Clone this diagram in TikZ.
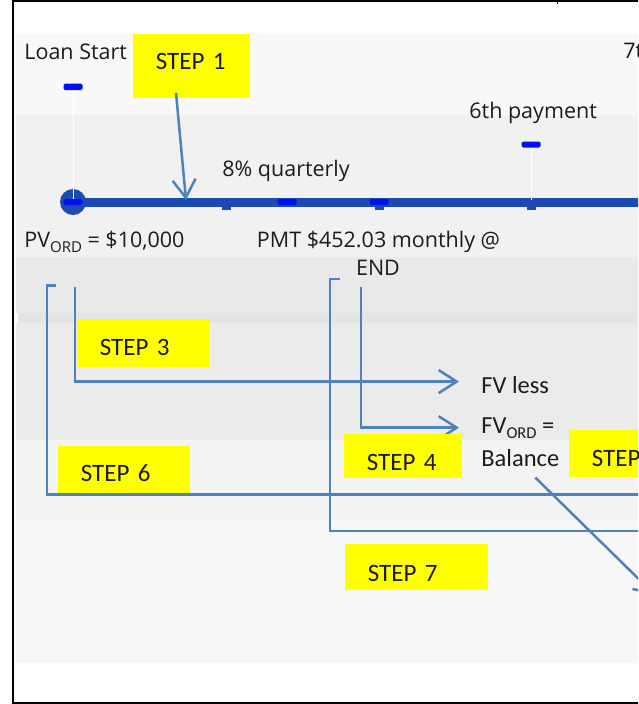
\documentclass[tikz,border=0pt]{standalone}
\usetikzlibrary{arrows.meta}
\usepackage{fontspec}
\setmainfont{Open Sans}
\newfontfamily\calfont{Carlito}
\definecolor{lineblue}{RGB}{26,74,178}
\definecolor{markblue}{RGB}{0,16,240}
\definecolor{linkblue}{RGB}{79,129,189}
\definecolor{stepyellow}{RGB}{255,255,0}
\definecolor{inkgray}{RGB}{28,28,28}
\definecolor{bandA}{RGB}{248,248,248}
\definecolor{bandB}{RGB}{241,241,241}
\definecolor{bandC}{RGB}{233,233,233}
\definecolor{bandD}{RGB}{228,228,228}
\definecolor{bandE}{RGB}{235,235,235}
\definecolor{bandF}{RGB}{243,243,243}
\definecolor{bandG}{RGB}{247,247,247}
\newcommand{\lowsub}[2]{\raisebox{-5pt}{\fontsize{#1}{#1}\selectfont #2}}

\begin{document}
\begin{tikzpicture}[x=1pt,y=-1pt,line width=0.8pt,>=Stealth,
  conn/.style={->,draw=linkblue,line width=2.5pt,>={Straight Barb[length=18pt,width=23pt]}},
  link/.style={draw=linkblue,line width=2.5pt},
  stepbox/.style={fill=stepyellow,anchor=north west,inner xsep=22.5pt,inner ysep=0pt,
    align=left,text=inkgray,font=\calfont\fontsize{25}{30}\selectfont},
  tlabel/.style={anchor=base west,inner sep=0pt,text=inkgray,font=\fontsize{21.5}{26}\selectfont},
  flabel/.style={anchor=base west,inner sep=0pt,text=inkgray,font=\calfont\fontsize{24.5}{30}\selectfont},
  tickmark/.style={fill=markblue,rounded corners=1.5pt}]
\useasboundingbox (0,0) rectangle (638,704);
\clip (0,0) rectangle (638,704);
% ---------- background bands ----------
\fill[bandA] (16,34) rectangle (638,115);
\fill[bandB] (16,115) rectangle (638,257);
\fill[bandC] (16,257) rectangle (638,313);
\fill[bandD] (18,313) rectangle (638,323);
\fill[bandE] (16,323) rectangle (638,440);
\fill[bandF] (16,440) rectangle (638,520);
\fill[bandG] (16,520) rectangle (638,663);
% ---------- frame ----------
\draw[line width=2pt] (640,1.2) -- (13.3,1.2) -- (13.3,703) -- (640,703);
\draw[line width=1pt] (557.5,1) -- (557.5,3.5);
% ---------- time line ----------
\draw[lineblue,line width=8.5pt] (73,202.5) -- (660,202.5);
\node[circle,fill=lineblue,minimum size=26pt,inner sep=0pt] (start) at (73,202) {};
\foreach \x in {226,379,531}
  \fill[lineblue] (\x-4.5,205) rectangle ++(9,5);
\foreach \x in {73,287,379}
  \fill[tickmark] (\x-9.5,199) rectangle ++(19,6);
\draw[white,line width=1pt] (73,90) -- (73,199);
\draw[white,line width=1pt] (531,147) -- (531,200);
\fill[tickmark] (63.5,83.5) rectangle ++(19,6.5);
\fill[tickmark] (521.5,141.5) rectangle ++(19,6);
% ---------- labels ----------
\node[tlabel] (loan) at (24,59) {Loan Start};
\node[tlabel] (seventh) at (623,58) {7th payment};
\node[tlabel] (sixth) at (469,118) {6th payment};
\node[tlabel] (rate) at (222,176) {8\% quarterly};
\node[tlabel] (pv) at (24,247) {PV\lowsub{15}{ORD} = \$10,000};
\node[tlabel,anchor=base] (pmt) at (378.5,247) {PMT \$452.03 monthly @};
\node[tlabel,anchor=base] (pmtend) at (378,275) {END};
\node[flabel] (fvless) at (481,393) {FV less};
\node[flabel] (fvord) at (481,433) {FV\lowsub{16.5}{ORD} =};
\node[flabel] (bal) at (481,466) {Balance};
% ---------- connectors ----------
\coordinate (hit1) at (186,200);
\coordinate (c3) at (75,287);
\coordinate (c4) at (361,287);
\coordinate (b6) at (56,285.5);
\coordinate (e6) at (660,494.5);
\coordinate (b7) at (340,279);
\coordinate (e7) at (660,531);
\coordinate (e5) at (655,595);
\draw[conn] (c3) |- ([xshift=-22pt,yshift=3pt]fvless.west);
\draw[conn] (c4) |- ([xshift=-22pt]fvord.west);
\draw[link] (b6) -- ++(-9,0) |- (e6);
\draw[link] (b7) -- ++(-10,0) |- (e7);
\draw[conn] ([shift={(15pt,-11pt)}]bal.south) -- (e5);
% ---------- step boxes ----------
\node[stepbox,text width=72pt,minimum height=64pt,text depth=11pt] (step1) at (133,34) {STEP 1};
\node[stepbox,text width=87pt,minimum height=48pt,text height=25pt] (step3) at (77,319) {STEP 3};
\node[stepbox,text width=73pt,minimum height=44pt,text height=29pt] (step4) at (344,434) {STEP 4};
\node[stepbox,text width=73pt,minimum height=47pt,text height=25pt] (step5) at (569,430) {STEP 5};
\node[stepbox,text width=87pt,minimum height=47pt,text height=24pt] (step6) at (58,446) {STEP 6};
\node[stepbox,text width=98pt,minimum height=46pt,text height=29pt] (step7) at (345,544) {STEP 7};
\draw[conn] ([shift={(43pt,6pt)}]step1.south west) -- (hit1);
\end{tikzpicture}
\end{document}
